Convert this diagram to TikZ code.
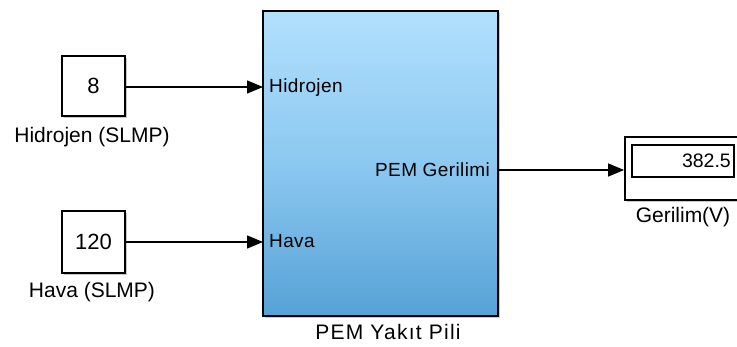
\documentclass[tikz,border=0pt]{standalone}
\usepackage{fontspec}
\setmainfont{Liberation Sans}
\usetikzlibrary{arrows.meta,shadows}
\definecolor{pemtop}{RGB}{178,224,253}
\definecolor{pemmid}{RGB}{140,200,240}
\definecolor{pembot}{RGB}{86,162,214}
\tikzset{
  blk/.style={draw=black, line width=1.8pt, fill=white, inner sep=0pt,
    drop shadow={shadow xshift=2pt, shadow yshift=-2pt, opacity=0.35, fill=black!60}},
  lbl/.style={font=\fontsize{21}{23}\selectfont, inner sep=0pt},
  portlbl/.style={font=\fontsize{19}{21}\selectfont\addfontfeature{LetterSpace=2}, inner sep=0pt},
  conn/.style={line width=1.3pt, -{Triangle[length=16pt,width=13pt]}},
}
\begin{document}
\begin{tikzpicture}[x=1pt,y=-1pt]
\clip (0,0) rectangle (737,347);
\fill[white] (0,0) rectangle (737,347);
% constant blocks
\node[blk, minimum width=63pt, minimum height=60pt, font=\fontsize{22}{24}\selectfont] (c1) at (93.5,86) {8};
\node[blk, minimum width=63pt, minimum height=62pt, font=\fontsize{22}{24}\selectfont] (c2) at (93.5,242) {120};
\node[lbl] (c1l) at (92,137) {Hidrojen (SLMP)};
\node[lbl] (c2l) at (92,292) {Hava (SLMP)};
% PEM block
\node[blk, minimum width=235pt, minimum height=305pt, top color=pemtop, bottom color=pembot, middle color=pemmid] (pem) at (380.5,163.5) {};
\node[lbl, font=\fontsize{21}{23}\selectfont\addfontfeature{LetterSpace=6}] (peml) at (388,332) {PEM Yakıt Pili};
\coordinate (pin1) at (263,87);
\coordinate (pin2) at (263,242);
\coordinate (pout) at (498,170);
\node[portlbl, anchor=west] (h) at (269,88) {Hidrojen};
\node[portlbl, anchor=west] (hv) at (269,241) {Hava};
\node[portlbl, anchor=east] (pg) at (490,170) {PEM Gerilimi};
% display
\node[blk, minimum width=122pt, minimum height=63pt] (disp) at (686,168.5) {};
\node[draw=black, line width=1.2pt, fill=white, minimum width=102pt, minimum height=32pt, inner sep=0pt] (dispin) at (683,161) {};
\node[font=\fontsize{19.5}{21}\selectfont, inner sep=0pt, anchor=east] (val) at (731,161) {382.5};
\node[lbl] (displ) at (683,217) {Gerilim(V)};
% connectors
\draw[conn] (c1.east |- pin1) -- (pin1);
\draw[conn] (c2.east) -- (pin2);
\draw[conn] (pout) -- (disp.west |- pout);
\end{tikzpicture}
\end{document}
